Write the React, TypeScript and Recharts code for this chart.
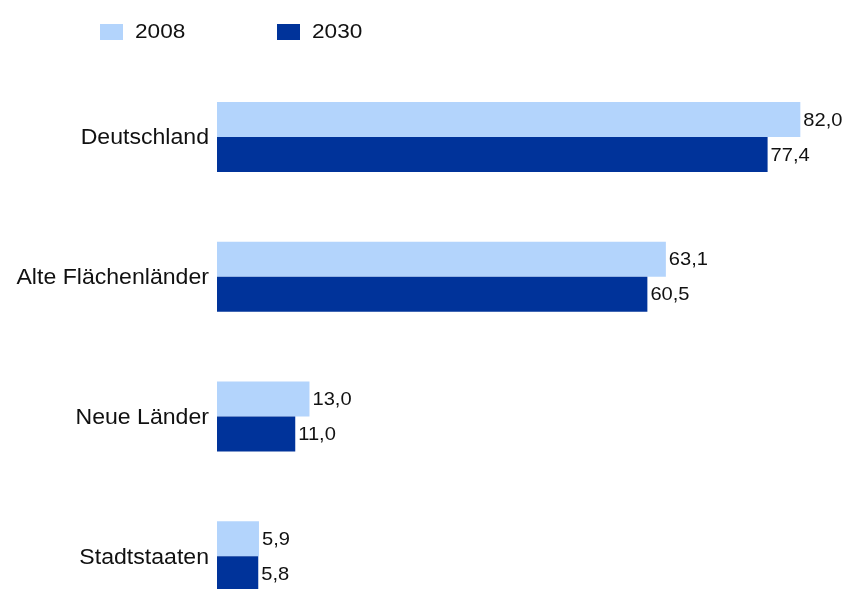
import React from 'react'
import { BarChart, Bar, XAxis, YAxis, LabelList } from 'recharts'

const categories = ['Deutschland', 'Alte Flächenländer', 'Neue Länder', 'Stadtstaaten']
const values2008 = [82.0, 63.1, 13.0, 5.9]
const values2030 = [77.4, 60.5, 11.0, 5.8]
const seriesNames = ['2008', '2030']

const LIGHT = '#b3d4fc'
const DARK = '#00339a'
const FONT = '"Liberation Sans", Arial, sans-serif'

const data = categories.map((name, i) => ({
  name,
  v2008: values2008[i],
  v2030: values2030[i],
}))

const fmt = (v: number) => v.toFixed(1).replace('.', ',')

const CategoryTick = ({ x, y, payload }: any) => (
  <g transform={`translate(${x},${y}) scale(1.05,1)`}>
    <text x={0} y={0} dy={7.5} textAnchor="end" fontSize={22} fontFamily={FONT} fill="#111">
      {payload.value}
    </text>
  </g>
)

const ValueLabel = ({ x, y, width, height, value }: any) => (
  <g transform={`translate(${x + width + 3},${y + height / 2}) scale(1.15,1)`}>
    <text x={0} y={0} dy={6} textAnchor="start" fontSize={17.5} fontFamily={FONT} fill="#111">
      {fmt(value)}
    </text>
  </g>
)

const LegendItem = ({ color, label, left }: { color: string; label: string; left: number }) => (
  <div style={{ position: 'absolute', left, top: 20, display: 'flex', alignItems: 'center' }}>
    <div style={{ width: 23, height: 16, background: color }} />
    <span
      style={{
        marginLeft: 12,
        fontSize: 19.5,
        fontFamily: FONT,
        color: '#111',
        display: 'inline-block',
        transform: 'scaleX(1.16)',
        transformOrigin: 'left center',
      }}
    >
      {label}
    </span>
  </div>
)

export default function App() {
  // fixed to the window so nothing scrolls; the last bar pair runs past
  // the bottom edge like in the original
  return (
    <div style={{ position: 'fixed', left: 0, top: 0, width: 845, height: 589, overflow: 'hidden' }}>
      <LegendItem color={LIGHT} label={seriesNames[0]} left={100} />
      <LegendItem color={DARK} label={seriesNames[1]} left={277} />
      <BarChart
        width={845}
        height={626}
        data={data}
        layout="vertical"
        margin={{ top: 67, right: 2, bottom: 0, left: 8 }}
        barGap={0}
      >
        <XAxis type="number" domain={[0, 88]} hide />
        <YAxis
          type="category"
          dataKey="name"
          width={209}
          axisLine={false}
          tickLine={false}
          tick={<CategoryTick />}
        />
        <Bar dataKey="v2008" name={seriesNames[0]} fill={LIGHT} barSize={35} isAnimationActive={false}>
          <LabelList dataKey="v2008" content={<ValueLabel />} />
        </Bar>
        <Bar dataKey="v2030" name={seriesNames[1]} fill={DARK} barSize={35} isAnimationActive={false}>
          <LabelList dataKey="v2030" content={<ValueLabel />} />
        </Bar>
      </BarChart>
    </div>
  )
}
